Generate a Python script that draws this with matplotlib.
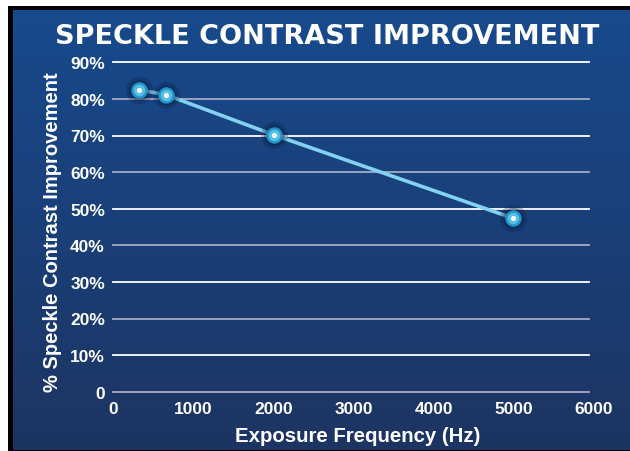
import numpy as np
import matplotlib
matplotlib.use("Agg")
import matplotlib.pyplot as plt
from matplotlib.patches import Rectangle
from matplotlib import font_manager as fm

freq_hz = [320, 660, 2000, 4990]
improvement_pct = [82.5, 81.1, 70.2, 47.4]
y_ticks = [0, 10, 20, 30, 40, 50, 60, 70, 80, 90]
y_tick_labels = ["0", "10%", "20%", "30%", "40%", "50%", "60%", "70%", "80%", "90%"]
x_ticks = [0, 1000, 2000, 3000, 4000, 5000, 6000]
x_tick_labels = ["0", "1000", "2000", "3000", "4000", "5000", "6000"]
title = "SPECKLE CONTRAST IMPROVEMENT"
x_label = "Exposure Frequency (Hz)"
y_label = "% Speckle Contrast Improvement"

names = {f.name for f in fm.fontManager.ttflist}
narrow = "Liberation Sans Narrow" if "Liberation Sans Narrow" in names else "Liberation Sans"

W, H = 630, 452
fig = plt.figure(figsize=(W / 100, H / 100), dpi=100)
fig.patch.set_facecolor("white")

# background panel with border and gradient
bg = fig.add_axes([0, 0, 1, 1])
bg.set_xlim(0, W)
bg.set_ylim(H, 0)
bg.axis("off")
bg.add_patch(Rectangle((8.3, 7), W - 8.3, H - 7, facecolor="black", edgecolor="none"))
grad = np.linspace(0, 1, 256).reshape(-1, 1)
top = np.array([0x17, 0x4a, 0x8d]) / 255
bot = np.array([0x1d, 0x34, 0x62]) / 255
img = top + (bot - top) * grad[:, :, None]
img = img.reshape(256, 1, 3)
bg.imshow(img, extent=(12.7, W, H - 1, 11), aspect="auto", zorder=1)
bg.set_xlim(0, W)
bg.set_ylim(H, 0)

left, right = 113.3, 594.0
bottom, topy = 392.7, 63.3
ax = fig.add_axes([left / W, 1 - bottom / H, (right - left) / W, (bottom - topy) / H])
ax.patch.set_alpha(0)
ax.set_xlim(0, 6000)
ax.set_ylim(0, 90)
for s in ax.spines.values():
    s.set_visible(False)

gx_end = (589.3 - left) / (right - left)
for i, v in enumerate(y_ticks):
    col = "#ffffff" if (v // 10) % 2 == 1 else "#a4acc4"
    ax.axhline(v, xmin=0, xmax=gx_end, color=col, lw=1.3, zorder=1, clip_on=False)

ax.set_yticks(y_ticks)
ax.set_yticklabels(y_tick_labels)
ax.set_xticks(x_ticks)
ax.set_xticklabels(x_tick_labels)
ax.tick_params(axis="both", length=0, colors="white")
ax.tick_params(axis="y", pad=6)
ax.tick_params(axis="x", pad=7)
for lab in ax.get_yticklabels() + ax.get_xticklabels():
    lab.set_fontfamily(narrow)
    lab.set_fontweight("bold")
    lab.set_fontsize(12.5)
    lab.set_color("white")

# line
ax.plot(freq_hz, improvement_pct, color="#82d2f2", lw=2.6, zorder=3, solid_capstyle="round")
# shadow glow
ax.scatter(freq_hz, improvement_pct, s=380, color="#0a1a3a", alpha=0.25, zorder=4, linewidths=0, clip_on=False)
ax.scatter(freq_hz, improvement_pct, s=230, color="#0a1a3a", alpha=0.3, zorder=4, linewidths=0, clip_on=False)
ax.scatter(freq_hz, improvement_pct, s=140, color="#1f95c8", zorder=5, linewidths=0, clip_on=False)
ax.scatter(freq_hz, improvement_pct, s=70, color="#55bfe6", zorder=6, linewidths=0, clip_on=False)
ax.scatter(freq_hz, improvement_pct, s=14, color="#ffffff", zorder=7, linewidths=0, clip_on=False)

fig.text(327 / W, 1 - 37 / H, title, color="white", fontsize=19.5, fontweight="bold",
         family="DejaVu Sans", ha="center", va="center")
fig.text(358 / W, 1 - 437 / H, x_label, color="white", fontsize=14.7, fontweight="bold",
         family="Liberation Sans", ha="center", va="center")
fig.text(53 / W, 1 - 232 / H, y_label, color="white", fontsize=14.5, fontweight="bold",
         family="Liberation Sans", ha="center", va="center", rotation=90)

fig.savefig("out.png", dpi=100, facecolor=fig.get_facecolor())
